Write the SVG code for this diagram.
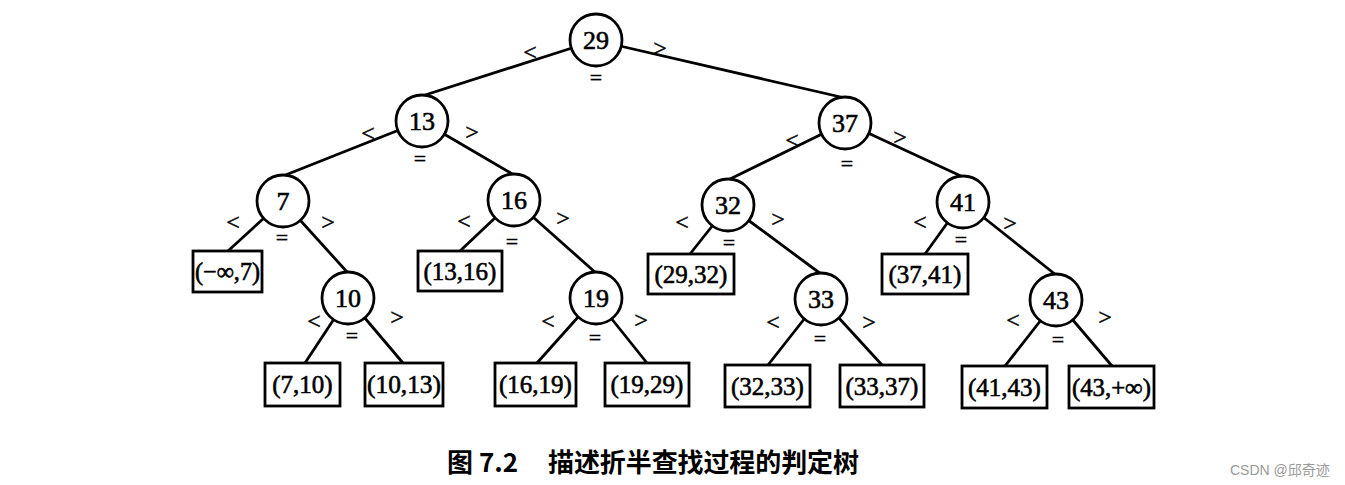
<svg xmlns="http://www.w3.org/2000/svg" width="1345" height="485" viewBox="0 0 1345 485">
<style>
.c{fill:#fff;stroke:#000;stroke-width:2.8}
.b{fill:#fff;stroke:#000;stroke-width:2.8}
.n{font-family:"Liberation Serif","Times New Roman",serif;font-size:26px;text-anchor:middle;dominant-baseline:central;fill:#000;stroke:#000;stroke-width:0.6}
.l{font-family:"Liberation Serif","Times New Roman",serif;font-size:25px;text-anchor:middle;dominant-baseline:central;fill:#000;stroke:#000;stroke-width:0.6}
.s{font-family:"Liberation Serif","Times New Roman",serif;font-size:24px;text-anchor:middle;dominant-baseline:central;fill:#000;stroke:#000;stroke-width:0.4}
.e{font-family:"Liberation Serif","Times New Roman",serif;font-size:22px;text-anchor:middle;dominant-baseline:central;fill:#000;stroke:#000;stroke-width:0.4}
#edges line{stroke:#000;stroke-width:2.8}
.cap{font-family:"Noto Sans CJK SC","Liberation Sans",sans-serif;font-size:26px;font-weight:bold;fill:#000}
.wm{font-family:"Liberation Sans","Noto Sans CJK SC",sans-serif;font-size:14px;fill:#999}
</style>
<rect width="1345" height="485" fill="#fff"/>
<g id="edges">
<line x1="572" y1="48" x2="422" y2="96"/>
<line x1="620" y1="46" x2="845" y2="98"/>
<line x1="399" y1="130" x2="283" y2="176"/>
<line x1="444" y1="134" x2="514" y2="175"/>
<line x1="822" y1="134" x2="728" y2="180"/>
<line x1="868" y1="133" x2="963" y2="177"/>
<line x1="264" y1="218" x2="228" y2="251"/>
<line x1="300" y1="220" x2="348" y2="273"/>
<line x1="496" y1="217" x2="460" y2="251"/>
<line x1="533" y1="217" x2="596" y2="273"/>
<line x1="713" y1="225" x2="690" y2="254"/>
<line x1="748" y1="220" x2="821" y2="274"/>
<line x1="948" y1="222" x2="925" y2="254"/>
<line x1="983" y1="217" x2="1056" y2="275"/>
<line x1="334" y1="319" x2="305" y2="363"/>
<line x1="364" y1="317" x2="403" y2="363"/>
<line x1="579" y1="316" x2="537" y2="363"/>
<line x1="611" y1="318" x2="647" y2="363"/>
<line x1="805" y1="318" x2="768" y2="365"/>
<line x1="838" y1="317" x2="882" y2="365"/>
<line x1="1041" y1="320" x2="1005" y2="366"/>
<line x1="1072" y1="319" x2="1112" y2="366"/>
</g>
<g id="n29"><circle class="c" cx="596" cy="40" r="26"/><text class="n" x="596" y="40">29</text>
<text class="s" x="530" y="52">&lt;</text><text class="s" x="660" y="48">&gt;</text><text class="e" x="596" y="77">=</text></g>
<g id="n13"><circle class="c" cx="422" cy="121" r="26"/><text class="n" x="422" y="121">13</text>
<text class="s" x="368" y="133">&lt;</text><text class="s" x="472" y="132">&gt;</text><text class="e" x="420" y="158">=</text></g>
<g id="n37"><circle class="c" cx="845" cy="123" r="26"/><text class="n" x="845" y="123">37</text>
<text class="s" x="792" y="140">&lt;</text><text class="s" x="900" y="137">&gt;</text><text class="e" x="847" y="163">=</text></g>
<g id="n7"><circle class="c" cx="283" cy="201" r="26"/><text class="n" x="283" y="201">7</text>
<text class="s" x="233" y="222">&lt;</text><text class="s" x="328" y="222">&gt;</text><text class="e" x="282" y="237">=</text></g>
<g id="n16"><circle class="c" cx="514" cy="200" r="26"/><text class="n" x="514" y="200">16</text>
<text class="s" x="464" y="221">&lt;</text><text class="s" x="563" y="218">&gt;</text><text class="e" x="512" y="241">=</text></g>
<g id="n32"><circle class="c" cx="728" cy="205" r="26"/><text class="n" x="728" y="205">32</text>
<text class="s" x="682" y="222">&lt;</text><text class="s" x="778" y="219">&gt;</text><text class="e" x="729" y="242">=</text></g>
<g id="n41"><circle class="c" cx="963" cy="202" r="26"/><text class="n" x="963" y="202">41</text>
<text class="s" x="920" y="222">&lt;</text><text class="s" x="1010" y="223">&gt;</text><text class="e" x="961" y="239">=</text></g>
<g id="n10"><circle class="c" cx="348" cy="298" r="26"/><text class="n" x="348" y="298">10</text>
<text class="s" x="314" y="321">&lt;</text><text class="s" x="397" y="317">&gt;</text><text class="e" x="352" y="335">=</text></g>
<g id="n19"><circle class="c" cx="596" cy="298" r="26"/><text class="n" x="596" y="298">19</text>
<text class="s" x="548" y="321">&lt;</text><text class="s" x="641" y="320">&gt;</text><text class="e" x="595" y="337">=</text></g>
<g id="n33"><circle class="c" cx="821" cy="299" r="26"/><text class="n" x="821" y="299">33</text>
<text class="s" x="773" y="322">&lt;</text><text class="s" x="869" y="322">&gt;</text><text class="e" x="820" y="338">=</text></g>
<g id="n43"><circle class="c" cx="1056" cy="300" r="26"/><text class="n" x="1056" y="300">43</text>
<text class="s" x="1013" y="320">&lt;</text><text class="s" x="1105" y="317">&gt;</text><text class="e" x="1058" y="339">=</text></g>
<g id="l_ninf_7"><rect class="b" x="193" y="251" width="69" height="41"/><text class="l" x="227.5" y="271.5" textLength="65" lengthAdjust="spacingAndGlyphs">(−∞,7)</text></g>
<g id="l_13_16"><rect class="b" x="418" y="251" width="84" height="40"/><text class="l" x="460" y="271">(13,16)</text></g>
<g id="l_29_32"><rect class="b" x="648" y="254" width="86" height="40"/><text class="l" x="691" y="274">(29,32)</text></g>
<g id="l_37_41"><rect class="b" x="882" y="254" width="86" height="40"/><text class="l" x="925" y="274">(37,41)</text></g>
<g id="l_7_10"><rect class="b" x="265" y="363" width="75" height="43"/><text class="l" x="302.5" y="384.5">(7,10)</text></g>
<g id="l_10_13"><rect class="b" x="365" y="363" width="78" height="43"/><text class="l" x="404" y="384.5" textLength="74" lengthAdjust="spacingAndGlyphs">(10,13)</text></g>
<g id="l_16_19"><rect class="b" x="495" y="363" width="81" height="43"/><text class="l" x="535.5" y="384.5">(16,19)</text></g>
<g id="l_19_29"><rect class="b" x="605" y="363" width="84" height="43"/><text class="l" x="647" y="384.5">(19,29)</text></g>
<g id="l_32_33"><rect class="b" x="725" y="365" width="85" height="42"/><text class="l" x="767.5" y="386">(32,33)</text></g>
<g id="l_33_37"><rect class="b" x="840" y="365" width="84" height="42"/><text class="l" x="882" y="386">(33,37)</text></g>
<g id="l_41_43"><rect class="b" x="962" y="366" width="85" height="42"/><text class="l" x="1004.5" y="387">(41,43)</text></g>
<g id="l_43_pinf"><rect class="b" x="1069" y="366" width="85" height="42"/><text class="l" x="1111.5" y="387" textLength="79" lengthAdjust="spacingAndGlyphs">(43,+∞)</text></g>
<g id="caption">
<text class="cap" x="447" y="472">图 7.2</text>
<text class="cap" x="548" y="472" textLength="311" lengthAdjust="spacing">描述折半查找过程的判定树</text>
</g>
<text class="wm" x="1230" y="475">CSDN @邱奇迹</text>
</svg>
